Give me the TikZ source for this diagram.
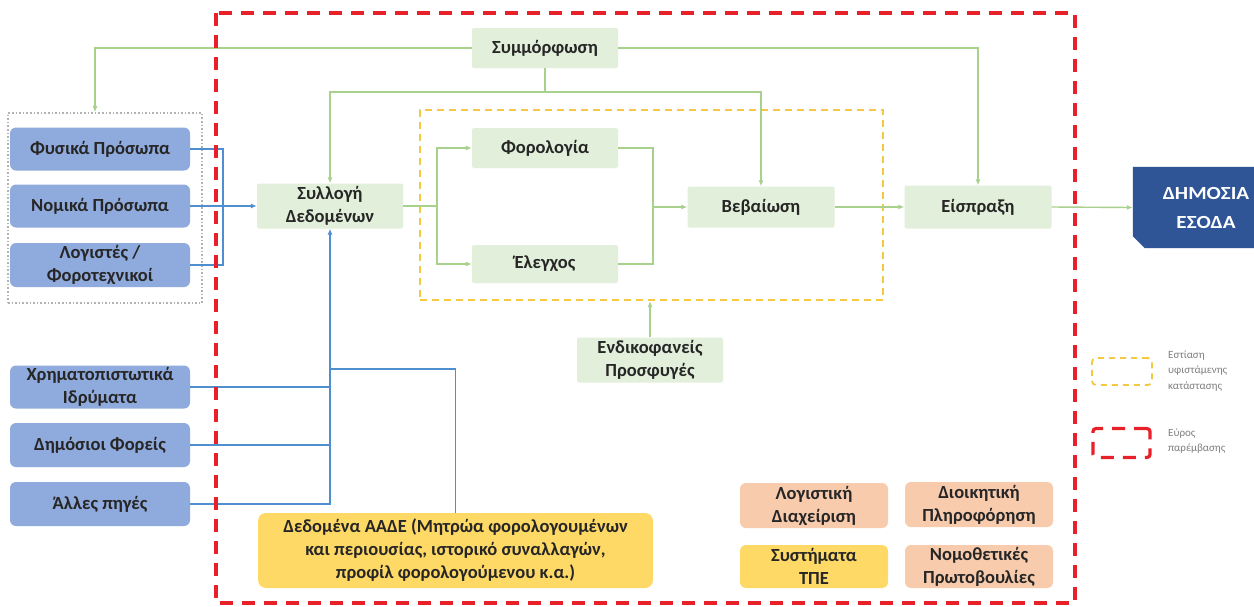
\documentclass[tikz,border=0pt]{standalone}
\usepackage{fontspec}
\setmainfont{Carlito}
\newfontfamily\widefont{Carlito}[FakeStretch=1.14]
\usetikzlibrary{arrows.meta}
\definecolor{bluebox}{HTML}{8FAADC}
\definecolor{blueline}{HTML}{4F8FD0}
\definecolor{greenbox}{HTML}{E2EFDA}
\definecolor{greenline}{HTML}{A9D18E}
\definecolor{yellowbox}{HTML}{FFD966}
\definecolor{salmonbox}{HTML}{F8CBAD}
\definecolor{darkblue}{HTML}{2F5597}
\definecolor{reddash}{HTML}{E8202A}
\definecolor{yeldash}{HTML}{F5C842}
\definecolor{txt}{HTML}{262626}
\definecolor{legtxt}{HTML}{7F7F7F}
\begin{document}
\begin{tikzpicture}[x=1pt,y=-1pt,
  font=\bfseries\fontsize{18.5}{23}\selectfont, text=txt,
  srcbox/.style={fill=bluebox, rounded corners=6pt, minimum width=180pt, minimum height=44pt, align=center, inner sep=0pt},
  gbox/.style={fill=greenbox, rounded corners=2pt, minimum width=146pt, minimum height=42pt, align=center, inner sep=0pt},
  ybox/.style={fill=yellowbox, rounded corners=6pt, minimum width=148pt, minimum height=44pt, align=center, inner sep=0pt},
  sbox/.style={fill=salmonbox, rounded corners=6pt, minimum width=148pt, minimum height=45pt, align=center, inner sep=0pt},
  tip/.style={-{Latex[length=6pt,width=5pt]}},
  gline/.style={draw=greenline, line width=1.4pt},
  bline/.style={draw=blueline, line width=1.5pt},
  legtext/.style={font=\fontsize{11}{15.5}\selectfont, text=legtxt, align=left, anchor=west, inner sep=0pt}]
\clip (0,0) rectangle (1254,606);
\fill[white] (0,0) rectangle (1254,606);

% source boxes
\node[srcbox, minimum height=43pt] (fp) at (100,149) {Φυσικά Πρόσωπα};
\node[srcbox, minimum height=43pt] (np) at (100,206) {Νομικά Πρόσωπα};
\node[srcbox] (lg) at (100,265) {Λογιστές /\\Φοροτεχνικοί};
\node[srcbox, minimum height=43pt] (xi) at (100,387) {Χρηματοπιστωτικά\\Ιδρύματα};
\node[srcbox] (df) at (100,445) {Δημόσιοι Φορείς};
\node[srcbox] (ap) at (100,504) {Άλλες πηγές};

% grey dotted group
\node[draw=gray!60, dotted, line width=1.6pt, minimum width=194pt, minimum height=190pt, inner sep=0pt] (grp) at (105,208) {};

% process boxes
\node[gbox, minimum height=45pt] (sd) at (330,206) {Συλλογή\\Δεδομένων};
\node[gbox, minimum height=40pt] (sm) at (545,48) {Συμμόρφωση};
\node[gbox, minimum height=40pt] (fo) at (545,148) {Φορολογία};
\node[gbox, minimum height=38pt] (el) at (545,264) {Έλεγχος};
\node[gbox, minimum width=147pt, minimum height=41pt] (be) at (761,207) {Βεβαίωση};
\node[gbox, minimum width=147pt, minimum height=43pt] (ei) at (978,207) {Είσπραξη};
\node[gbox, minimum height=45pt] (en) at (650,360) {Ενδικοφανείς\\Προσφυγές};

% yellow dashed focus box
\node[draw=yeldash, dash pattern=on 7pt off 5pt, line width=2pt, minimum width=463pt, minimum height=190pt, inner sep=0pt] (yb) at (651.5,205) {};

% public revenue
\node[minimum width=156pt, minimum height=81pt, inner sep=0pt] (dim) at (1211,207.5) {};
\fill[darkblue] (dim.north west) -- (dim.north east) -- (dim.south east) -- ([xshift=12pt]dim.south west) -- ([yshift=12pt]dim.south west) -- cycle;
\node[text=white, align=center, font=\widefont\bfseries\fontsize{18.5}{29}\selectfont] at (1206,207.5) {ΔΗΜΟΣΙΑ\\ΕΣΟΔΑ};

% AADE data and bottom boxes
\node[fill=yellowbox, rounded corners=8pt, minimum width=395pt, minimum height=75pt, align=center, inner sep=0pt] (aade) at (455.5,550.5) {Δεδομένα ΑΑΔΕ (Μητρώα φορολογουμένων\\και περιουσίας, ιστορικό συναλλαγών,\\προφίλ φορολογούμενου κ.α.)};
\node[sbox] (lgd) at (814,505.5) {Λογιστική\\Διαχείριση};
\node[sbox] (dp) at (979,504.5) {Διοικητική\\Πληροφόρηση};
\node[ybox, minimum height=43pt] (tpe) at (814,566.5) {Συστήματα\\ΤΠΕ};
\node[sbox, minimum height=43pt] (nom) at (979,566.5) {Νομοθετικές\\Πρωτοβουλίες};

% blue connectors
\coordinate (bj) at (223,206);
\draw[bline] (fp.east) -| (bj);
\draw[bline] (lg.east) -| (bj);
\draw[bline, tip] (np.east) -- (sd.west);
\draw[bline, tip] (ap.east) -| (sd.south);
\draw[bline] (xi.east) -- (xi.east -| sd.south);
\draw[bline] (df.east) -- (df.east -| sd.south);
\coordinate (aj) at (330,369);
\draw[bline] (aade.north) |- (aj);

% green connectors
\draw[gline, tip] (sm.west) -| ([xshift=-10pt]grp.north);
\draw[gline, tip] (sm.east) -| (ei.north);
\coordinate (gj) at (545,92);
\draw[gline] (sm.south) -- (gj);
\draw[gline, tip] (gj) -| (sd.north);
\draw[gline, tip] (gj) -| (be.north);
\coordinate (split) at (437,206);
\draw[gline] (sd.east) -- (split);
\draw[gline, tip] (split) |- (fo.west);
\draw[gline, tip] (split) |- (el.west);
\coordinate (merge) at (653,207);
\draw[gline] (fo.east) -| (merge);
\draw[gline] (el.east) -| (merge);
\draw[gline, tip] (merge) -- (be.west);
\draw[gline, tip] (be.east) -- (ei.west);
\draw[gline, tip] (ei.east) -- (dim.west);
\draw[gline, tip] (en.north) -- (en.north |- yb.south);

% red dashed intervention scope
\draw[reddash, line width=3.6pt, dash pattern=on 13pt off 9pt] (216,13) rectangle (1075,603);

% legend
\node[draw=yeldash, dash pattern=on 6pt off 5pt, line width=1.8pt, rounded corners=4pt, minimum width=60pt, minimum height=27pt, inner sep=0pt] (ly) at (1122,371.5) {};
\node[legtext] (lyt) at (1168,371) {Εστίαση\\υφιστάμενης\\κατάστασης};
\node[draw=reddash, dash pattern=on 13pt off 9pt, line width=3.2pt, rounded corners=3pt, minimum width=57pt, minimum height=29pt, inner sep=0pt] (lr) at (1121.5,443) {};
\node[legtext] (lrt) at (1168,441) {Εύρος\\παρέμβασης};
\end{tikzpicture}
\end{document}
